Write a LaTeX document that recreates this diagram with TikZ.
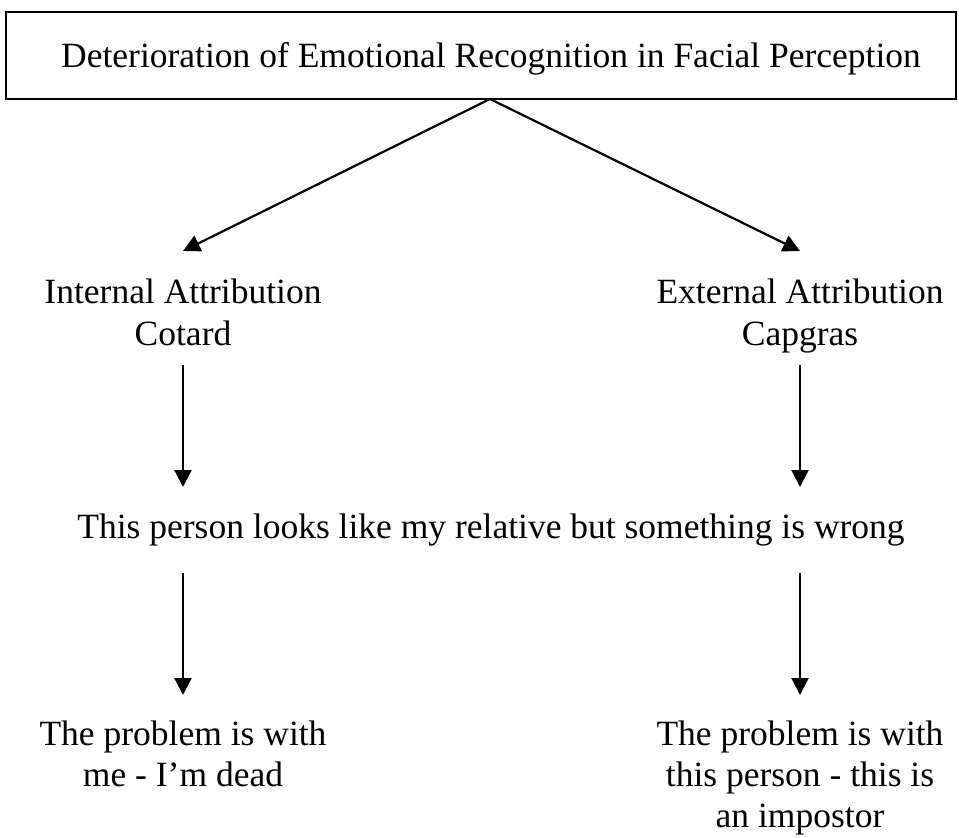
\documentclass[tikz,border=0pt]{standalone}
\usepackage{fontspec}
\setmainfont{Liberation Serif}
\usetikzlibrary{arrows.meta}
\begin{document}
\begin{tikzpicture}[x=1pt,y=-1pt,
  txt/.style={font=\fontsize{35.5}{42}\selectfont, inner sep=0pt, anchor=base},
  arr/.style={-{Triangle[length=17pt,width=17pt]}, line width=2.2pt},
  topbox/.style={draw, line width=1.5pt, inner sep=0pt}]
\useasboundingbox (0,0) rectangle (959,838);
\node[topbox, minimum width=950pt, minimum height=87pt] (top) at (481,55.5) {};
\node[txt] (title) at (491,67) {Deterioration of Emotional Recognition in Facial Perception};
\node[txt] (int) at (183,303) {Internal Attribution};
\node[txt] (cot) at (183,345) {Cotard};
\node[txt] (ext) at (800,303) {External Attribution};
\node[txt] (cap) at (800,345) {Capgras};
\node[txt] (mid) at (491,538) {This person looks like my relative but something is wrong};
\node[txt] (me1) at (183,745) {The problem is with};
\node[txt] (me2) at (183,786) {me - I’m dead};
\node[txt] (im1) at (800,745) {The problem is with};
\node[txt] (im2) at (800,786) {this person - this is};
\node[txt] (im3) at (800,827) {an impostor};
\coordinate (apex) at (490,99);
\coordinate (tl) at (183,251);
\coordinate (tr) at (800,251);
\draw[arr] (apex) -- (tl);
\draw[arr] (apex) -- (tr);
\coordinate (a1) at (183,365); \coordinate (a2) at (183,487);
\coordinate (b1) at (800,365); \coordinate (b2) at (800,487);
\coordinate (c1) at (183,573); \coordinate (c2) at (183,695);
\coordinate (d1) at (800,573); \coordinate (d2) at (800,695);
\draw[arr] (a1) -- (a2);
\draw[arr] (b1) -- (b2);
\draw[arr] (c1) -- (c2);
\draw[arr] (d1) -- (d2);
\end{tikzpicture}
\end{document}
